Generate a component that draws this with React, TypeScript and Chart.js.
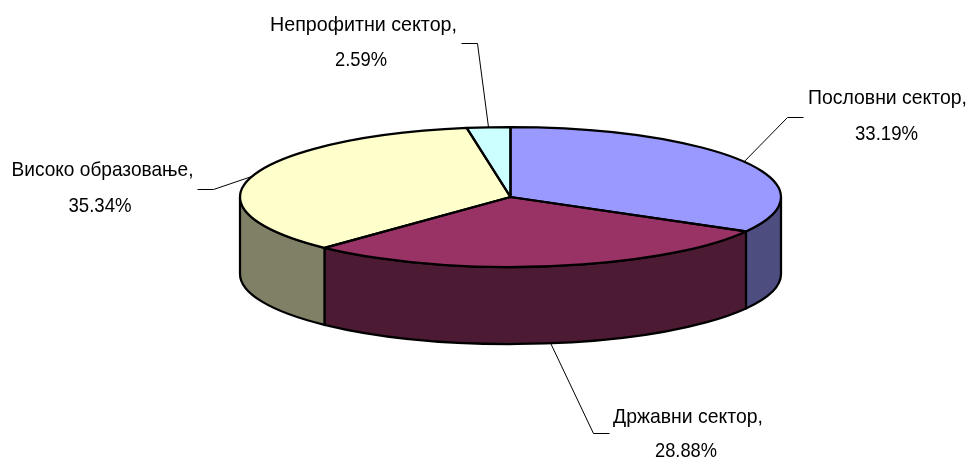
import React, { useEffect, useRef } from "react";
import { Chart, registerables } from "chart.js";

Chart.register(...registerables);

const categories = ["Пословни сектор", "Државни сектор", "Високо образовање", "Непрофитни сектор"];
const shares = [33.19, 28.88, 35.34, 2.59];
const topColors = ["#9999FF", "#993366", "#FFFFCC", "#CCFFFF"];
const sideColors = ["#4D4D80", "#4D1A33", "#808066", "#668080"];

// Projection of the pie to an ellipse
const CX = 510.5;
const CY = 197;
const RX = 270.5;
const RY = 70;
const DEPTH = 77;

// Label layout, in the order of the categories
const labelBoxes = [
  { x: 887.5, nameY: 98, valueX: 886.5, valueY: 134, width: 159, valueWidth: 63, elbow: [787, 117], end: [803, 117] },
  { x: 688, nameY: 417, valueX: 686, valueY: 451, width: 150, valueWidth: 62, elbow: [593, 433], end: [609, 433] },
  { x: 102.5, nameY: 170, valueX: 100, valueY: 206, width: 182, valueWidth: 63, elbow: [213, 189], end: [197, 189] },
  { x: 363.5, nameY: 25, valueX: 361, valueY: 60, width: 187, valueWidth: 52, elbow: [477, 43], end: [461, 43] },
];

const pie3d = {
  id: "pie3d",
  beforeDatasetsDraw(chart: any) {
    const ctx = chart.ctx;
    const arcs = chart.getDatasetMeta(0).data;
    const r = arcs[0].outerRadius;
    const px = arcs[0].x;
    const py = arcs[0].y;

    // Outer wall: only the front half of the rim is visible.
    ctx.save();
    ctx.lineWidth = 2.25;
    ctx.lineJoin = "round";
    ctx.strokeStyle = "#000";
    arcs.forEach((arc: any, i: number) => {
      const a = Math.max(arc.startAngle, 0);
      const b = Math.min(arc.endAngle, Math.PI);
      if (b <= a) return;
      ctx.beginPath();
      ctx.ellipse(CX, CY, RX, RY, 0, a, b);
      ctx.lineTo(CX + RX * Math.cos(b), CY + RY * Math.sin(b) + DEPTH);
      ctx.ellipse(CX, CY + DEPTH, RX, RY, 0, b, a, true);
      ctx.closePath();
      ctx.fillStyle = sideColors[i];
      ctx.fill();
      ctx.stroke();
    });
    ctx.restore();

    // Squash the library's own arcs to the top face.
    ctx.save();
    ctx.translate(CX, CY);
    ctx.scale(RX / r, RY / r);
    ctx.translate(-px, -py);
  },
  afterDatasetsDraw(chart: any) {
    const ctx = chart.ctx;
    ctx.restore();
    const arcs = chart.getDatasetMeta(0).data;

    ctx.save();
    ctx.lineWidth = 2.25;
    ctx.lineJoin = "round";
    ctx.strokeStyle = "#000";
    arcs.forEach((arc: any) => {
      ctx.beginPath();
      ctx.moveTo(CX, CY);
      ctx.ellipse(CX, CY, RX, RY, 0, arc.startAngle, arc.endAngle);
      ctx.closePath();
      ctx.stroke();
    });
    ctx.restore();

    ctx.save();
    arcs.forEach((arc: any, i: number) => {
      const box = labelBoxes[i];
      const mid = (arc.startAngle + arc.endAngle) / 2;
      const sin = Math.sin(mid);
      const ax = CX + RX * Math.cos(mid);
      const ay = CY + RY * sin + (sin > 0 ? DEPTH : 0);
      ctx.beginPath();
      ctx.moveTo(ax, ay);
      ctx.lineTo(box.elbow[0] + 0.5, box.elbow[1] + 0.5);
      ctx.lineTo(box.end[0] + 0.5, box.end[1] + 0.5);
      ctx.lineWidth = 1;
      ctx.strokeStyle = "#000";
      ctx.stroke();

      ctx.fillStyle = "#000";
      ctx.font = '21px "Liberation Sans"';
      ctx.textAlign = "center";
      ctx.textBaseline = "middle";
      ctx.fillText(categories[i] + ",", box.x, box.nameY, box.width);
      ctx.fillText(shares[i].toFixed(2) + "%", box.valueX, box.valueY, box.valueWidth);
    });
    ctx.restore();
  },
};

export default function App() {
  const ref = useRef<HTMLCanvasElement>(null);
  useEffect(() => {
    const chart = new Chart(ref.current!, {
      type: "pie",
      data: {
        labels: categories,
        datasets: [
          {
            data: shares,
            backgroundColor: topColors,
            borderWidth: 0,
            clip: false,
          } as any,
        ],
      },
      options: {
        responsive: false,
        animation: false,
        layout: { padding: 0 },
        plugins: { legend: { display: false }, tooltip: { enabled: false } },
      },
      plugins: [pie3d],
    });
    return () => chart.destroy();
  }, []);
  return (
    <canvas
      ref={ref}
      width={969}
      height={459}
      style={{ position: "absolute", left: 0, top: 0, width: 969, height: 459, background: "#fff" }}
    />
  );
}
